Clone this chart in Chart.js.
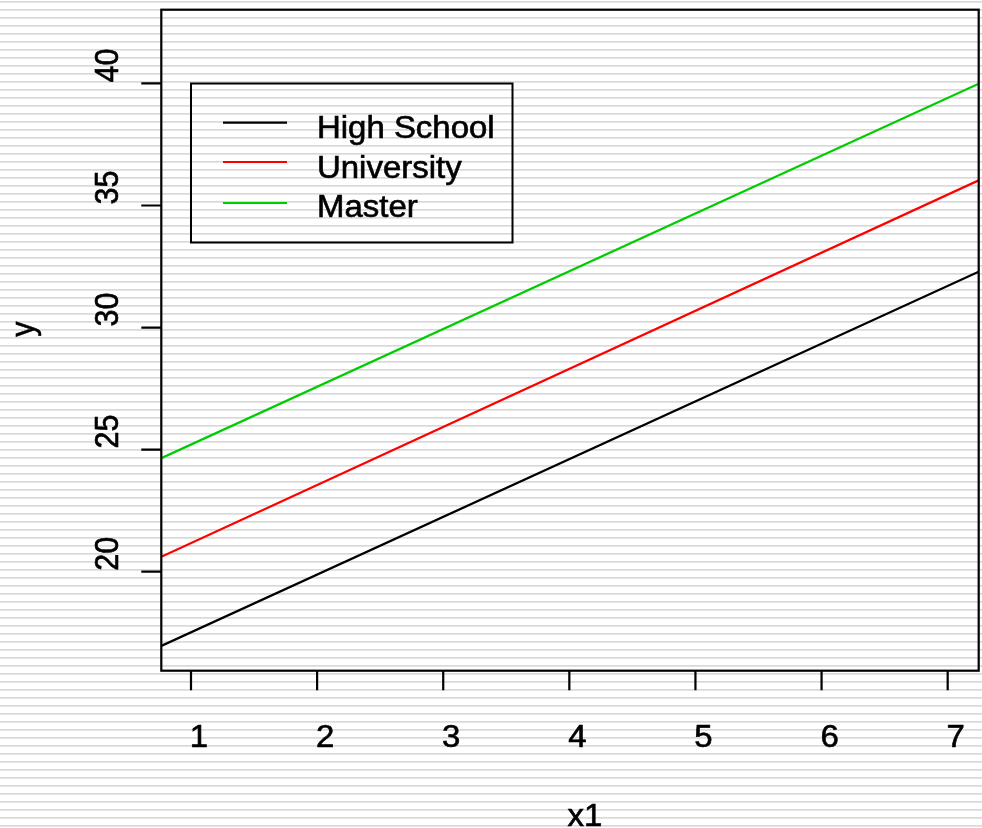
<!DOCTYPE html>
<html>
<head>
<meta charset="utf-8">
<script src="https://cdn.jsdelivr.net/npm/chart.js@4/dist/chart.umd.min.js"></script>
<style>
html,body{margin:0;padding:0;background:#fff;}
canvas{display:block;}
</style>
</head>
<body>
<canvas id="c" width="982" height="828"></canvas>
<script>
// ---- data ----
const seriesNames = ["High School", "University", "Master"];
const seriesColors = ["#000000", "#ff0000", "#00cd00"];
const lineX = [0.7645, 7.246];            // x at the left and right plot edges
const highSchool = [16.96, 32.29];        // y at those x
const university = [20.61, 36.03];
const master = [24.65, 39.99];
const xTicks = [1, 2, 3, 4, 5, 6, 7];
const yTicks = [20, 25, 30, 35, 40];
const xLimits = [0.7645, 7.246];
const yLimits = [15.944, 43.02];
const xTitle = "x1";
const yTitle = "y";

const seriesValues = [highSchool, university, master];

const FONT = '30.5px "Liberation Sans", Arial, sans-serif';
const SX = 1.08;

function drawText(ctx, txt, x, y, align, baseline, rot) {
  ctx.save();
  ctx.translate(x, y);
  ctx.scale(SX, 1);
  if (rot) ctx.rotate(rot);
  ctx.font = FONT;
  ctx.fillStyle = "#000";
  ctx.strokeStyle = "#000";
  ctx.lineWidth = 0.6;
  ctx.textAlign = align;
  ctx.textBaseline = baseline;
  ctx.fillText(txt, 0, 0);
  ctx.strokeText(txt, 0, 0);
  ctx.restore();
}

const rPlot = {
  id: "rPlot",
  beforeDraw(chart) {
    const ctx = chart.ctx;
    ctx.save();
    ctx.fillStyle = "#ffffff";
    ctx.fillRect(0, 0, chart.width, chart.height);
    ctx.fillStyle = "#d9d9d9";
    for (let y = 1; y < chart.height; y += 8) {
      ctx.fillRect(0, y, chart.width, 1.7);
    }
    ctx.restore();
  },
  afterDraw(chart) {
    const ctx = chart.ctx;
    const a = chart.chartArea;
    const xs = chart.scales.x, ys = chart.scales.y;
    ctx.save();
    ctx.strokeStyle = "#000";
    ctx.lineWidth = 2.2;
    // box
    ctx.strokeRect(a.left, a.top, a.right - a.left, a.bottom - a.top);
    // x ticks
    ctx.beginPath();
    xTicks.forEach(v => {
      const px = xs.getPixelForValue(v);
      ctx.moveTo(px, a.bottom);
      ctx.lineTo(px, a.bottom + 19.5);
    });
    yTicks.forEach(v => {
      const py = ys.getPixelForValue(v);
      ctx.moveTo(a.left, py);
      ctx.lineTo(a.left - 20, py);
    });
    ctx.stroke();
    xTicks.forEach(v => {
      const px = xs.getPixelForValue(v);
      drawText(ctx, String(v), px + 8, 747, "center", "alphabetic", 0);
    });
    yTicks.forEach(v => {
      const py = ys.getPixelForValue(v);
      drawText(ctx, String(v), 118.3, py - 18, "center", "alphabetic", -Math.PI / 2);
    });
    // axis titles
    drawText(ctx, xTitle, 585, 826, "center", "alphabetic", 0);
    drawText(ctx, yTitle, 34, 329, "center", "alphabetic", -Math.PI / 2);
    // legend
    ctx.lineWidth = 2;
    ctx.strokeRect(191, 83.5, 321.5, 159);
    const lineYs = [122.7, 162, 203];
    const textYs = [138.3, 178.3, 217.3];
    seriesNames.forEach((n, i) => {
      ctx.strokeStyle = seriesColors[i];
      ctx.lineWidth = 2.2;
      ctx.beginPath();
      ctx.moveTo(223, lineYs[i]);
      ctx.lineTo(287, lineYs[i]);
      ctx.stroke();
      drawText(ctx, n, 317, textYs[i], "left", "alphabetic", 0);
    });
    ctx.restore();
  }
};

new Chart(document.getElementById("c"), {
  type: "line",
  data: {
    datasets: seriesNames.map((n, i) => ({
      label: n,
      data: lineX.map((x, j) => ({ x: x, y: seriesValues[i][j] })),
      borderColor: seriesColors[i],
      borderWidth: 2.2,
      pointRadius: 0,
      tension: 0,
      fill: false
    }))
  },
  options: {
    responsive: false,
    animation: false,
    devicePixelRatio: 1,
    layout: { padding: { left: 161.3, top: 9.7, right: 3.3, bottom: 157.3 } },
    plugins: { legend: { display: false }, tooltip: { enabled: false } },
    scales: {
      x: { type: "linear", display: false, min: xLimits[0], max: xLimits[1] },
      y: { type: "linear", display: false, min: yLimits[0], max: yLimits[1] }
    }
  },
  plugins: [rPlot]
});
</script>
</body>
</html>
